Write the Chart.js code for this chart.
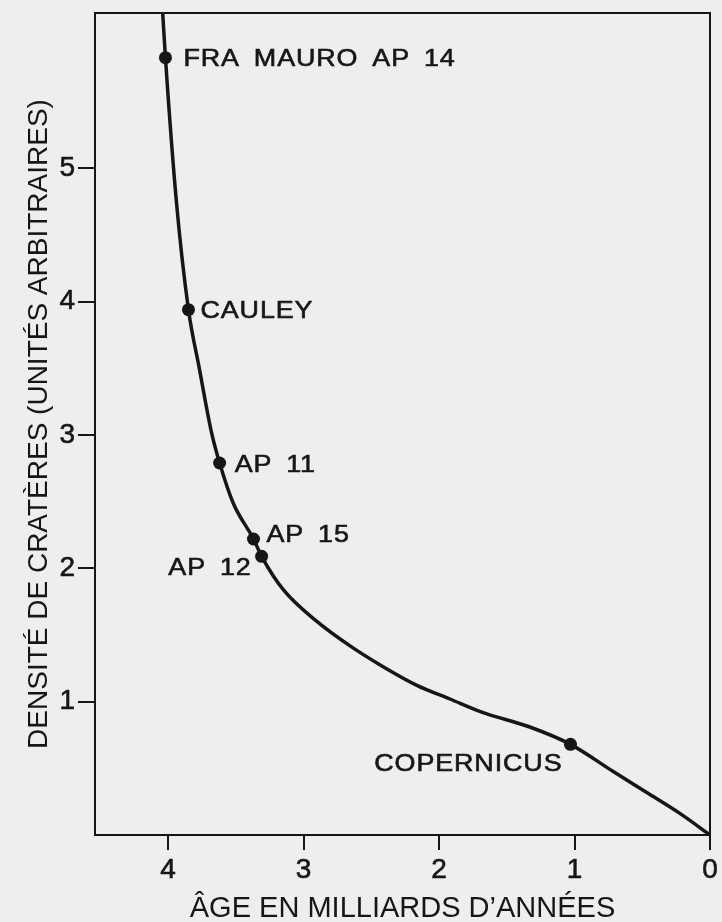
<!DOCTYPE html>
<html>
<head>
<meta charset="utf-8">
<script src="https://cdn.jsdelivr.net/npm/chart.js@4"></script>
<style>
  html, body { margin: 0; padding: 0; background: #eeeeec; }
  #c { display: block; }
</style>
</head>
<body>
<canvas id="c" width="722" height="922"></canvas>
<script>
(function() {

// Sites dated on the Moon (age in billions of years, crater density)
var siteNames   = ['FRA MAURO AP 14', 'CAULEY', 'AP 11', 'AP 15', 'AP 12', 'COPERNICUS'];
var siteAges    = [4.02, 3.85, 3.62, 3.37, 3.31, 1.03];
var siteDensity = [5.83, 3.94, 2.79, 2.22, 2.09, 0.68];

// Curve
var curveAges    = [4.04, 4.02, 3.94, 3.85, 3.77, 3.68, 3.62, 3.52, 3.37, 3.31, 3.15, 2.90, 2.66, 2.41, 2.16, 1.92, 1.68, 1.33, 1.03, 0.72, 0.47, 0.22, 0];
var curveDensity = [6.16, 5.83, 4.76, 3.94, 3.50, 3.02, 2.79, 2.49, 2.22, 2.09, 1.84, 1.60, 1.42, 1.26, 1.12, 1.02, 0.92, 0.81, 0.68, 0.48, 0.32, 0.16, 0];

var xTicks = [0, 1, 2, 3, 4];
var yTicks = [1, 2, 3, 4, 5];

var INK = '#161616';
var FONT = "'Liberation Sans', Arial, sans-serif";

// label placement relative to its dot: [dx, dy, align]
var labelPos = [
    [18, 0, 'left'],
    [12, 0, 'left'],
    [15, 0, 'left'],
    [13, -6, 'left'],
    [-10, 10, 'right'],
    [-8, 18, 'right']
];

var curve = curveAges.map(function(a, i) { return { x: a, y: curveDensity[i] }; });
var sites = siteAges.map(function(a, i) { return { x: a, y: siteDensity[i] }; });

var boxAndLabels = {
    id: 'boxAndLabels',
    afterDatasetsDraw: function(chart) {
        var ctx = chart.ctx, a = chart.chartArea;
        var xs = chart.scales.x, ys = chart.scales.y;
        ctx.save();
        ctx.strokeStyle = INK;
        ctx.lineWidth = 2;
        ctx.strokeRect(a.left, a.top, a.right - a.left, a.bottom - a.top);

        ctx.fillStyle = INK;
        ctx.lineWidth = 0.6;
        ctx.font = '24px ' + FONT;
        ctx.textBaseline = 'alphabetic';
        if ('letterSpacing' in ctx) ctx.letterSpacing = '0.8px';
        if ('wordSpacing' in ctx) ctx.wordSpacing = '5px';
        siteNames.forEach(function(name, i) {
            var px = xs.getPixelForValue(siteAges[i]);
            var py = ys.getPixelForValue(siteDensity[i]);
            var p = labelPos[i];
            ctx.save();
            ctx.translate(px + p[0], py + p[1] + 8.5);
            ctx.scale(1.12, 1);
            ctx.textAlign = p[2];
            ctx.fillText(name, 0, 0);
            ctx.strokeText(name, 0, 0);
            ctx.restore();
        });
        ctx.restore();
    }
};

new Chart(document.getElementById('c').getContext('2d'), {
    type: 'line',
    data: {
        datasets: [
            { data: curve, borderColor: INK, borderWidth: 3.5, pointRadius: 0, cubicInterpolationMode: 'monotone', fill: false },
            { data: sites, showLine: false, pointRadius: 6.5, pointBackgroundColor: INK, pointBorderWidth: 0 }
        ]
    },
    options: {
        responsive: false,
        devicePixelRatio: 1,
        animation: false,
        layout: { padding: { top: 13, right: 12, left: 0, bottom: 0 } },
        plugins: { legend: { display: false }, tooltip: { enabled: false } },
        scales: {
            x: {
                type: 'linear', reverse: true, min: 0, max: 4.54,
                afterBuildTicks: function(s) { s.ticks = xTicks.map(function(v) { return { value: v }; }); },
                afterFit: function(s) { s.height = 87; s.paddingLeft = 0; s.paddingRight = 0; },
                grid: { drawOnChartArea: false, tickLength: 15, color: INK, lineWidth: 2 },
                border: { color: INK, width: 2 },
                ticks: { color: INK, font: { size: 28, family: FONT }, padding: 3, maxRotation: 0,
                         textStrokeColor: INK, textStrokeWidth: 0.6 },
                title: { display: true, text: 'ÂGE EN MILLIARDS D’ANNÉES', color: INK,
                         font: { size: 29, family: FONT }, padding: { top: 0, bottom: -4 } }
            },
            y: {
                type: 'linear', min: 0, max: 6.165,
                afterBuildTicks: function(s) { s.ticks = yTicks.map(function(v) { return { value: v }; }); },
                afterFit: function(s) { s.width = 95; s.paddingTop = 0; s.paddingBottom = 0; },
                grid: { drawOnChartArea: false, tickLength: 17, color: INK, lineWidth: 2 },
                border: { color: INK, width: 2 },
                ticks: { color: INK, font: { size: 28, family: FONT }, padding: 3,
                         textStrokeColor: INK, textStrokeWidth: 0.6 },
                title: { display: true, text: 'DENSITÉ DE CRATÈRES (UNITÉS ARBITRAIRES)', color: INK,
                         font: { size: 28, family: FONT }, padding: { top: 22, bottom: 0 } }
            }
        }
    },
    plugins: [boxAndLabels]
});

})();
</script>
</body>
</html>
